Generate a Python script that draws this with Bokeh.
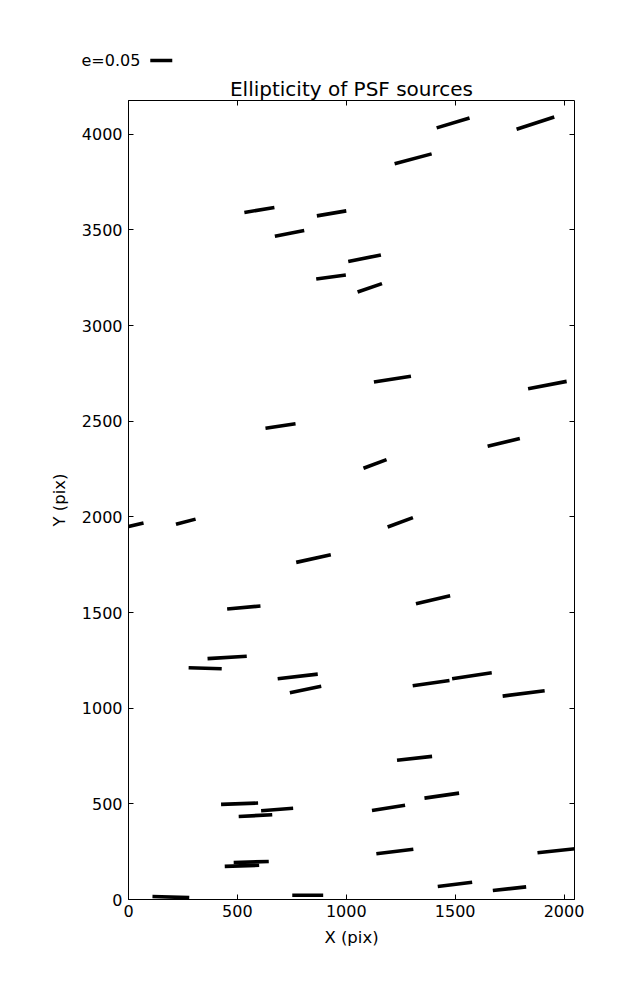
from bokeh.plotting import figure
from bokeh.models import LinearAxis, Range1d, FixedTicker, ColumnDataSource, Label
from bokeh.embed import file_html
from bokeh.resources import INLINE

# whisker endpoints (pix)
x0 = [1415, 1782, 1222, 532, 865, 672, 1009, 862, 1052, 1127, 1835, 629, 1649, 1079,
      -40, 218, 1190, 770, 453, 1320, 363, 276, 685, 741, 1305, 1486, 1718, 1233,
      425, 609, 506, 1118, 1359, 1138, 1878, 483, 442, 1420, 1673, 110, 752]
y0 = [4033, 4026, 3845, 3591, 3573, 3467, 3334, 3243, 3175, 2705, 2670, 2463, 2369, 2254,
      1939, 1961, 1947, 1762, 1518, 1546, 1259, 1211, 1154, 1081, 1117, 1154, 1063, 728,
      497, 464, 434, 465, 530, 239, 244, 193, 173, 68, 47, 16, 22]
x1 = [1566, 1955, 1392, 670, 1000, 807, 1159, 998, 1164, 1297, 2012, 767, 1797, 1185,
      69, 308, 1306, 929, 606, 1477, 543, 428, 869, 885, 1474, 1668, 1911, 1394,
      595, 756, 660, 1270, 1518, 1308, 2080, 644, 600, 1578, 1826, 279, 894]
y1 = [4085, 4090, 3897, 3617, 3599, 3496, 3369, 3264, 3219, 2735, 2708, 2487, 2409, 2299,
      1968, 1988, 1996, 1802, 1534, 1588, 1271, 1206, 1178, 1114, 1145, 1185, 1091, 748,
      504, 477, 443, 493, 556, 263, 269, 199, 179, 90, 66, 10, 22]

x_ticks = [0, 500, 1000, 1500, 2000]
y_ticks = [0, 500, 1000, 1500, 2000, 2500, 3000, 3500, 4000]
legend_e = 0.05
legend_text = "e=0.05"
whisker_scale = 2020.0   # pix of X per unit ellipticity

FONT = "DejaVu Sans"
LW = 3.6

# ---------------- legend strip (same X scale as main plot) ----------------
LEG_H = 72
X_PER_PX = 2048 / 446.0
leg = figure(frame_width=629, frame_height=LEG_H,
             x_range=Range1d(-128 * X_PER_PX, (629 - 128) * X_PER_PX),
             y_range=Range1d(0, LEG_H),
             x_axis_type=None, y_axis_type=None,
             output_backend="svg", toolbar_location=None,
             min_border=0)
leg.grid.visible = False
leg.outline_line_color = None
lx0 = 100
leg.segment(x0=[lx0], y0=[12], x1=[lx0 + legend_e * whisker_scale], y1=[12],
            line_color="black", line_width=LW, line_cap="butt")
leg.add_layout(Label(x=-216, y=12, text=legend_text, text_font=FONT,
                     text_font_size="16px", text_baseline="middle", text_align="left",
                     text_color="black"))

# ---------------- main plot ----------------
p = figure(frame_width=446, frame_height=799,
           x_range=Range1d(0, 2048), y_range=Range1d(0, 4176),
           output_backend="svg", toolbar_location=None,
           min_border_left=128, min_border_top=100 - LEG_H, min_border_right=55, min_border_bottom=50,
           title="Ellipticity of PSF sources")
p.title.align = "center"
p.title.text_font = FONT
p.title.text_font_size = "20px"
p.title.text_font_style = "normal"
p.title.text_color = "black"
p.title.standoff = 0

p.grid.visible = False
p.outline_line_color = "black"
p.outline_line_width = 1

src = ColumnDataSource(dict(x0=x0, y0=y0, x1=x1, y1=y1))
p.segment("x0", "y0", "x1", "y1", source=src, line_color="black", line_width=LW, line_cap="butt")

for ax, ticks in ((p.xaxis[0], x_ticks), (p.yaxis[0], y_ticks)):
    ax.ticker = FixedTicker(ticks=ticks)
    ax.major_tick_in = 5
    ax.major_tick_out = 0
    ax.minor_tick_line_color = None
    ax.major_label_text_font = FONT
    ax.major_label_text_font_size = "16px"
    ax.major_label_text_color = "black"
    ax.axis_label_text_font = FONT
    ax.axis_label_text_font_size = "16.5px"
    ax.axis_label_text_font_style = "normal"
    ax.axis_label_text_color = "black"
    ax.axis_line_color = "black"

p.xaxis.axis_label = "X (pix)"
p.yaxis.axis_label = "Y (pix)"
p.xaxis.major_label_standoff = 5
p.yaxis.major_label_standoff = 6
p.xaxis.axis_label_standoff = 8
p.yaxis.axis_label_standoff = 10

top = LinearAxis(ticker=FixedTicker(ticks=x_ticks), major_tick_in=5, major_tick_out=0,
                 minor_tick_line_color=None, major_label_text_font_size="1px",
                 major_label_text_color=None, major_label_standoff=0, axis_line_color=None)
right = LinearAxis(ticker=FixedTicker(ticks=y_ticks), major_tick_in=5, major_tick_out=0,
                   minor_tick_line_color=None, major_label_text_font_size="1px",
                   major_label_text_color=None, major_label_standoff=0, axis_line_color=None)
p.add_layout(top, "above")
p.add_layout(right, "right")

open("out.html", "w").write(file_html([leg, p], INLINE))
